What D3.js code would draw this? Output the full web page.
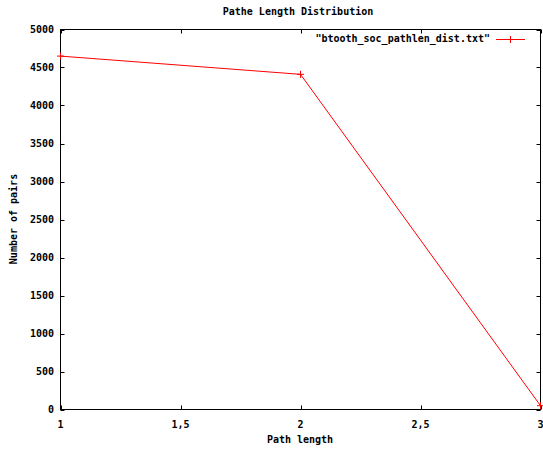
<!DOCTYPE html>
<html><head><meta charset="utf-8">
<script src="https://cdn.jsdelivr.net/npm/d3@7/dist/d3.min.js"></script>
<style>
body{margin:0;background:#fff;}
text{font-family:"DejaVu Sans Mono",monospace;font-weight:bold;font-size:10px;fill:#000;}
</style></head>
<body><svg id="c" width="543" height="450"></svg>
<script>
const pathLengths = [1, 2, 3];
const pairCounts = [4650, 4410, 50];
const xTicks = [1, 1.5, 2, 2.5, 3];
const yTicks = [0, 500, 1000, 1500, 2000, 2500, 3000, 3500, 4000, 4500, 5000];
const seriesName = '"btooth_soc_pathlen_dist.txt"';

const svg = d3.select("#c");
const L = 60.5, R = 540.5, T = 29.5, B = 409.5;
const x = d3.scaleLinear().domain([1, 3]).range([L, R]);
const y = d3.scaleLinear().domain([0, 5000]).range([B, T]);
const fmt = d => String(d).replace(".", ",");

// ticks (mirrored, inward)
const tl = 4;
const g = svg.append("g").attr("stroke", "#000").attr("stroke-width", 1);
xTicks.forEach(v => {
  const px = Math.round(x(v)) + 0.5;
  g.append("line").attr("x1", px).attr("x2", px).attr("y1", B).attr("y2", B - tl);
  g.append("line").attr("x1", px).attr("x2", px).attr("y1", T).attr("y2", T + tl);
});
yTicks.forEach(v => {
  const py = Math.round(y(v)) + 0.5;
  g.append("line").attr("x1", L).attr("x2", L + tl).attr("y1", py).attr("y2", py);
  g.append("line").attr("x1", R).attr("x2", R - tl).attr("y1", py).attr("y2", py);
});
svg.append("rect").attr("x", L).attr("y", T).attr("width", R - L).attr("height", B - T)
  .attr("fill", "none").attr("stroke", "#000");

// tick labels
xTicks.forEach(v => {
  svg.append("text").attr("x", x(v)).attr("y", 428).attr("text-anchor", "middle").text(fmt(v));
});
yTicks.forEach(v => {
  svg.append("text").attr("x", 54).attr("y", y(v) + 3.5).attr("text-anchor", "end").text(v);
});

// titles
svg.append("text").attr("x", 298).attr("y", 15).attr("text-anchor", "middle").text("Pathe Length Distribution");
svg.append("text").attr("x", 300).attr("y", 443).attr("text-anchor", "middle").text("Path length");
svg.append("text").attr("transform", "translate(17,219) rotate(-90)").attr("text-anchor", "middle").text("Number of pairs");

// series
const data = pathLengths.map((d, i) => [d, pairCounts[i]]);
svg.append("path").datum(data)
  .attr("d", d3.line().x(d => x(d[0])).y(d => y(d[1])))
  .attr("fill", "none").attr("stroke", "#ff0000").attr("stroke-width", 1);
const ms = 3.5;
data.forEach(d => {
  const px = x(d[0]), py = y(d[1]);
  svg.append("line").attr("x1", px - ms).attr("x2", px + ms).attr("y1", py).attr("y2", py).attr("stroke", "#ff0000");
  svg.append("line").attr("x1", px).attr("x2", px).attr("y1", py - ms).attr("y2", py + ms).attr("stroke", "#ff0000");
});

// legend
svg.append("text").attr("x", 490).attr("y", 42).attr("text-anchor", "end").text(seriesName);
svg.append("line").attr("x1", 496).attr("x2", 525).attr("y1", 39.5).attr("y2", 39.5).attr("stroke", "#ff0000");
svg.append("line").attr("x1", 510.5).attr("x2", 510.5).attr("y1", 36).attr("y2", 43).attr("stroke", "#ff0000");
</script></body></html>
